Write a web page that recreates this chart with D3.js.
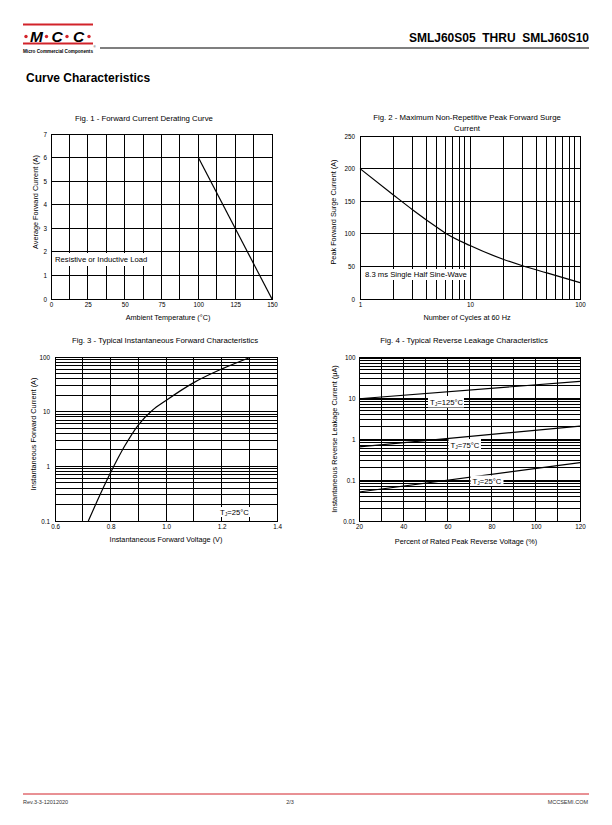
<!DOCTYPE html>
<html lang="en">
<head>
<meta charset="UTF-8">
<title>SMLJ60S05 THRU SMLJ60S10 - Curve Characteristics</title>
<script src="https://d3js.org/d3.v7.min.js"></script>
<style>
    body { margin: 0; background: #fff; }
    svg { display: block; font-family: "Liberation Sans", Arial, sans-serif; }
    .grid line, .frame { stroke: #000; stroke-width: 1; fill: none; shape-rendering: crispEdges; }
    .curve { stroke: #000; stroke-width: 1.2; fill: none; }
</style>
</head>
<body>
<svg id="page" width="612" height="825"></svg>
<script>
// ========================================================================
// Data
// ========================================================================
// Fig. 1 - derating
const fig1Temp = [100, 150];
const fig1Current = [6, 0];
const fig1TempTicks = [0, 25, 50, 75, 100, 125, 150];
const fig1TempGrid = [0, 12.5, 25, 37.5, 50, 62.5, 75, 87.5, 100, 112.5, 125, 137.5, 150];
const fig1CurrentTicks = [0, 1, 2, 3, 4, 5, 6, 7];

// Fig. 2 - surge current vs cycles
const fig2Cycles = [1, 2, 3, 5, 6, 10, 20, 30, 50, 100];
const fig2Surge = [200, 160, 137, 110, 101, 82, 61, 51, 40, 25];
const fig2CycleTicks = [1, 10, 100];
const fig2SurgeTicks = [0, 50, 100, 150, 200, 250];

// Fig. 3 - forward characteristics
const fig3Voltage = [0.72, 0.75, 0.8, 0.85, 0.9, 0.95, 1.0, 1.1, 1.2, 1.3];
const fig3Current = [0.1, 0.22, 0.76, 2.3, 5.7, 10.5, 16, 34, 60, 97];
const fig3VoltageTicks = [0.6, 0.8, 1.0, 1.2, 1.4];
const fig3VoltageGrid = [0.6, 0.7, 0.8, 0.9, 1.0, 1.1, 1.2, 1.3, 1.4];
const fig3CurrentTicks = [0.1, 1, 10, 100];

// Fig. 4 - reverse leakage
const fig4Percent = [20, 120];
const fig4Leak125 = [9.6, 25.5];
const fig4Leak75 = [0.64, 2.07];
const fig4Leak25 = [0.051, 0.265];
const fig4PercentTicks = [20, 40, 60, 80, 100, 120];
const fig4PercentGrid = [20, 30, 40, 50, 60, 70, 80, 90, 100, 110, 120];
const fig4LeakTicks = [0.01, 0.1, 1, 10, 100];

// ========================================================================
// Page setup
// ========================================================================
const FONT = '"Liberation Sans", Arial, sans-serif';
const RED = "#d2232a";
const svg = d3.select("#page");

// ========================================================================
// Header / footer
// ========================================================================
const drawHeader = () => {
    const h = svg.append("g");
    h.append("rect").attr("x", 23).attr("y", 23.5).attr("width", 70).attr("height", 2).attr("fill", RED);
    h.append("rect").attr("x", 23).attr("y", 42.5).attr("width", 70).attr("height", 2).attr("fill", RED);
    [26, 46.5, 67, 89].forEach(cx =>
        h.append("circle").attr("cx", cx).attr("cy", 36.5).attr("r", 1.7).attr("fill", RED));
    [["M", 36.5], ["C", 57], ["C", 78.5]].forEach(([t, cx]) =>
        h.append("text").attr("x", cx).attr("y", 41.7).attr("text-anchor", "middle")
            .attr("font-size", 15.5).attr("font-weight", "bold").attr("font-style", "italic").text(t));
    h.append("text").attr("x", 23).attr("y", 52.6).attr("font-size", 5.2).attr("font-weight", "bold")
        .attr("textLength", 70).attr("lengthAdjust", "spacingAndGlyphs").text("Micro Commercial Components");
    h.append("text").attr("x", 93.5).attr("y", 48).attr("font-size", 3).text("®");
    h.append("line").attr("x1", 100).attr("x2", 589).attr("y1", 48).attr("y2", 48)
        .attr("stroke", "#000").attr("stroke-width", 1.1);
    h.append("text").attr("x", 589).attr("y", 42).attr("text-anchor", "end")
        .attr("font-size", 12).attr("font-weight", "bold").style("white-space", "pre")
        .text("SMLJ60S05  THRU  SMLJ60S10");
    h.append("text").attr("x", 26).attr("y", 82).attr("font-size", 12).attr("font-weight", "bold")
        .text("Curve Characteristics");
};

const drawFooter = () => {
    const f = svg.append("g").attr("font-size", 5.5).attr("fill", "#333");
    f.append("line").attr("x1", 23).attr("x2", 589).attr("y1", 794).attr("y2", 794)
        .attr("stroke", RED).attr("stroke-width", 1);
    f.append("text").attr("x", 23).attr("y", 804).text("Rev.3-3-12012020");
    f.append("text").attr("x", 290).attr("y", 804).attr("text-anchor", "middle").text("2/3");
    f.append("text").attr("x", 588).attr("y", 804).attr("text-anchor", "end").text("MCCSEMI.COM");
};

// ========================================================================
// Chart helpers
// ========================================================================
const drawGrid = (g, x, y, xGrid, yGrid) => {
    const [y0, y1] = y.range();
    const [x0, x1] = x.range();
    const grid = g.append("g").attr("class", "grid");
    grid.selectAll("line.v").data(xGrid).join("line").attr("class", "v")
        .attr("x1", d => x(d)).attr("x2", d => x(d)).attr("y1", y0).attr("y2", y1);
    grid.selectAll("line.h").data(yGrid).join("line").attr("class", "h")
        .attr("x1", x0).attr("x2", x1).attr("y1", d => y(d)).attr("y2", d => y(d));
    g.append("rect").attr("class", "frame")
        .attr("x", x0).attr("y", y1).attr("width", x1 - x0).attr("height", y0 - y1);
};

const drawTicks = (g, x, y, xTicks, yTicks, xFmt, yFmt, yPad) => {
    const style = a => a.attr("font-family", FONT).attr("font-size", 6.3)
        .call(s => s.select(".domain").remove());
    g.append("g").attr("transform", `translate(0,${y.range()[0]})`)
        .call(d3.axisBottom(x).tickValues(xTicks).tickFormat(xFmt).tickSize(0).tickPadding(4)).call(style);
    g.append("g").attr("transform", `translate(${x.range()[0]},0)`)
        .call(d3.axisLeft(y).tickValues(yTicks).tickFormat(yFmt).tickSize(0).tickPadding(yPad)).call(style);
};

const drawTitle = (g, lines, cx, y) => {
    lines.forEach((t, i) => g.append("text").attr("x", cx).attr("y", y + i * 10.5)
        .attr("text-anchor", "middle").attr("font-size", 7.8).text(t));
};

// xPos = [centre x, baseline y]; yPos = [baseline x, centre y]
const drawAxisLabels = (g, xLabel, xPos, yLabel, yPos) => {
    g.append("text").attr("x", xPos[0]).attr("y", xPos[1]).attr("text-anchor", "middle")
        .attr("font-size", 7.3).text(xLabel);
    g.append("text").attr("transform", `translate(${yPos[0]},${yPos[1]}) rotate(-90)`)
        .attr("text-anchor", "middle").attr("font-size", 7.3).text(yLabel);
};

const drawCurve = (g, x, y, xs, ys, curve) => {
    const pts = xs.map((v, i) => [v, ys[i]]);
    g.append("path").attr("class", "curve")
        .attr("d", d3.line().x(d => x(d[0])).y(d => y(d[1])).curve(curve)(pts));
};

// boxed annotation: box = [x, y, w, h]; parts = [[text, isSub], ...]
const drawNote = (g, box, parts) => {
    g.append("rect").attr("x", box[0]).attr("y", box[1]).attr("width", box[2]).attr("height", box[3])
        .attr("fill", "#fff");
    const t = g.append("text").attr("x", box[0] + 2).attr("y", box[1] + box[3] / 2 + 2.8)
        .attr("font-size", 7.7);
    let shifted = false;
    parts.forEach(([s, sub]) => {
        const span = t.append("tspan").text(s);
        if (sub) { span.attr("font-size", 5).attr("dy", 1.6); shifted = true; }
        else if (shifted) { span.attr("dy", -1.6); shifted = false; }
    });
};

// ========================================================================
// Figures
// ========================================================================
const drawFig1 = () => {
    const g = svg.append("g");
    const x = d3.scaleLinear().domain([0, 150]).range([51, 272]);
    const y = d3.scaleLinear().domain([0, 7]).range([299, 134]);
    drawGrid(g, x, y, fig1TempGrid, fig1CurrentTicks);
    drawNote(g, [53, 253, 99, 13], [["Resistive or Inductive Load"]]);
    drawCurve(g, x, y, fig1Temp, fig1Current, d3.curveLinear);
    drawTicks(g, x, y, fig1TempTicks, fig1CurrentTicks, d => d, d => d, 4);
    drawTitle(g, ["Fig. 1 - Forward Current Derating Curve"], 144, 120.5);
    drawAxisLabels(g, "Ambient Temperature (°C)", [168, 319.5],
        "Average Forward Current (A)", [38, 202]);
};

const drawFig2 = () => {
    const g = svg.append("g");
    const x = d3.scaleLog().domain([1, 100]).range([360, 580]);
    const y = d3.scaleLinear().domain([0, 250]).range([299, 136]);
    drawGrid(g, x, y, x.ticks(), fig2SurgeTicks);
    drawNote(g, [363, 269, 106, 11], [["8.3 ms Single Half Sine-Wave"]]);
    drawCurve(g, x, y, fig2Cycles, fig2Surge, d3.curveMonotoneX);
    drawTicks(g, x, y, fig2CycleTicks, fig2SurgeTicks, d => d, d => d, 5);
    drawTitle(g, ["Fig. 2 - Maximum Non-Repetitive Peak Forward Surge", "Current"], 467, 120);
    drawAxisLabels(g, "Number of Cycles at 60 Hz", [467, 319.5],
        "Peak Forward Surge Current (A)", [336, 212]);
};

const drawFig3 = () => {
    const g = svg.append("g");
    const x = d3.scaleLinear().domain([0.6, 1.4]).range([55, 277]);
    const y = d3.scaleLog().domain([0.1, 100]).range([521, 357]);
    drawGrid(g, x, y, fig3VoltageGrid, y.ticks());
    drawNote(g, [218, 507, 32, 10], [["T"], ["J", true], ["=25°C"]]);
    drawCurve(g, x, y, fig3Voltage, fig3Current, d3.curveMonotoneX);
    drawTicks(g, x, y, fig3VoltageTicks, fig3CurrentTicks, d3.format(".1f"), d => String(d), 5);
    drawTitle(g, ["Fig. 3 - Typical Instantaneous Forward Characteristics"], 165, 342.5);
    drawAxisLabels(g, "Instantaneous Forward Voltage (V)", [166, 541.5],
        "Instantaneous Forward Current (A)", [36, 434]);
};

const drawFig4 = () => {
    const g = svg.append("g");
    const x = d3.scaleLinear().domain([20, 120]).range([359, 580]);
    const y = d3.scaleLog().domain([0.01, 100]).range([521, 357]);
    drawGrid(g, x, y, fig4PercentGrid, y.ticks());
    [fig4Leak125, fig4Leak75, fig4Leak25].forEach(s =>
        drawCurve(g, x, y, fig4Percent, s, d3.curveLinear));
    drawNote(g, [428, 396, 36, 11.5], [["T"], ["J", true], ["=125°C"]]);
    drawNote(g, [448.5, 439, 32.5, 11.5], [["T"], ["J", true], ["=75°C"]]);
    drawNote(g, [470.5, 475.5, 33, 10.5], [["T"], ["J", true], ["=25°C"]]);
    drawTicks(g, x, y, fig4PercentTicks, fig4LeakTicks, d => d, d => String(d), 3.5);
    drawTitle(g, ["Fig. 4 - Typical Reverse Leakage Characteristics"], 464, 342.5);
    drawAxisLabels(g, "Percent of Rated Peak Reverse Voltage (%)", [466, 543.5],
        "Instantaneous Reverse Leakage Current (μA)", [336.5, 439]);
};

// ========================================================================
// Main
// ========================================================================
drawHeader();
drawFig1();
drawFig2();
drawFig3();
drawFig4();
drawFooter();
</script>
</body>
</html>
